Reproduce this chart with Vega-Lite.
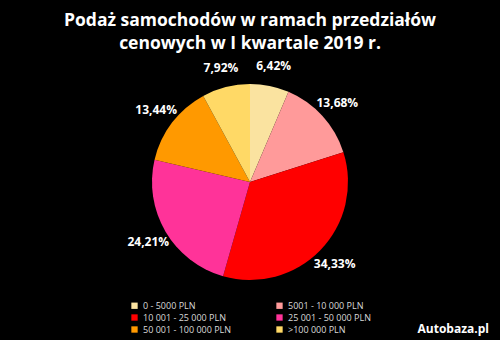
{
  "$schema": "https://vega.github.io/schema/vega-lite/v6.json",
  "autosize": {"type": "fit", "contains": "padding"},
  "width": 500,
  "height": 340,
  "background": "#000000",
  "padding": {"top": 28, "left": 5, "right": 5, "bottom": 5},
  "title": {
    "text": ["Podaż samochodów w ramach przedziałów", "cenowych w I kwartale 2019 r."],
    "color": "#ffffff",
    "font": "Open Sans",
    "fontSize": 17.5,
    "fontWeight": "bold",
    "lineHeight": 23,
    "baseline": "top",
    "anchor": "middle",
    "offset": 8
  },
  "datasets": {
    "slices": [
      {"range": "0 - 5000 PLN", "order": 1, "share": 6.42, "label": "6,42%"},
      {"range": "5001 - 10 000 PLN", "order": 2, "share": 13.68, "label": "13,68%"},
      {"range": "10 001 - 25 000 PLN", "order": 3, "share": 34.33, "label": "34,33%"},
      {"range": "25 001 - 50 000 PLN", "order": 4, "share": 24.21, "label": "24,21%"},
      {"range": "50 001 - 100 000 PLN", "order": 5, "share": 13.44, "label": "13,44%"},
      {"range": ">100 000 PLN", "order": 6, "share": 7.92, "label": "7,92%"}
    ],
    "brand": [{"name": "Autobaza.pl"}]
  },
  "layer": [
    {
      "data": {"name": "slices"},
      "mark": {"type": "arc", "outerRadius": 98, "stroke": null},
      "encoding": {
        "theta": {"field": "share", "type": "quantitative", "stack": true},
        "order": {"field": "order", "type": "quantitative"},
        "color": {
          "field": "range",
          "type": "nominal",
          "sort": ["0 - 5000 PLN", "5001 - 10 000 PLN", "10 001 - 25 000 PLN", "25 001 - 50 000 PLN", "50 001 - 100 000 PLN", ">100 000 PLN"],
          "scale": {
            "domain": ["0 - 5000 PLN", "5001 - 10 000 PLN", "10 001 - 25 000 PLN", "25 001 - 50 000 PLN", "50 001 - 100 000 PLN", ">100 000 PLN"],
            "range": ["#FAE3A0", "#FF9A9A", "#FF0000", "#FF3399", "#FF9900", "#FFD966"]
          },
          "legend": {
            "title": null,
            "orient": "bottom",
            "columns": 2,
            "columnPadding": 43,
            "rowPadding": 2,
            "symbolType": "square",
            "symbolSize": 40,
            "symbolStrokeWidth": 0,
            "labelColor": "#d9d9d9",
            "labelFont": "Open Sans",
            "labelFontSize": 9,
            "labelLimit": 200,
            "offset": 14
          }
        }
      }
    },
    {
      "data": {"name": "slices"},
      "mark": {"type": "text", "radius": 118, "color": "#ffffff", "font": "Open Sans", "fontSize": 12, "fontWeight": "bold"},
      "encoding": {
        "theta": {"field": "share", "type": "quantitative", "stack": true},
        "order": {"field": "order", "type": "quantitative"},
        "text": {"field": "label", "type": "nominal"}
      }
    },
    {
      "data": {"name": "brand"},
      "mark": {"type": "text", "x": "width", "y": "height", "dx": -6, "dy": 42, "align": "right", "color": "#ffffff", "font": "Open Sans", "fontSize": 12, "fontWeight": "bold"},
      "encoding": {
        "text": {"field": "name", "type": "nominal"}
      }
    }
  ],
  "config": {
    "view": {"stroke": null},
    "legend": {"layout": {"bottom": {"anchor": "middle"}}}
  }
}
